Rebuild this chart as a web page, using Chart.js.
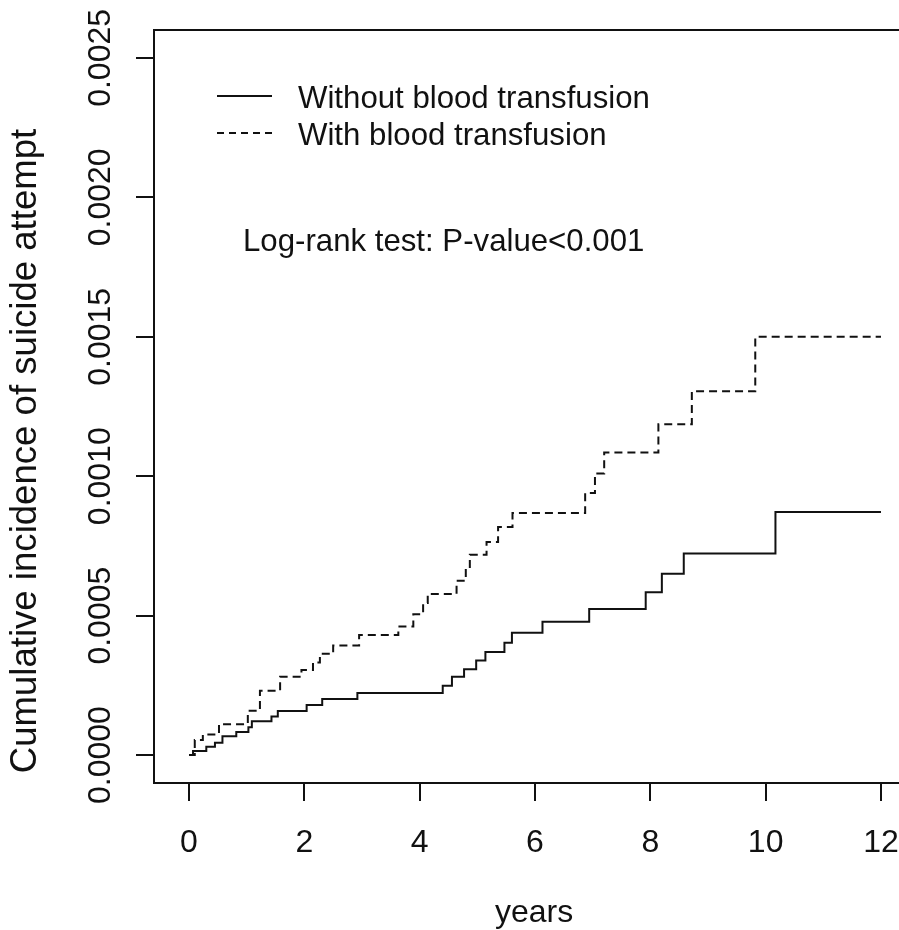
<!DOCTYPE html>
<html><head><meta charset="utf-8">
<script src="https://cdn.jsdelivr.net/npm/chart.js@4.4.1/dist/chart.umd.min.js"></script>
<style>html,body{margin:0;padding:0;background:#fff;overflow:hidden;width:899px;height:930px}canvas{display:block}</style>
</head><body>
<canvas id="c" width="930" height="930"></canvas>
<script>
const xTicks = [0, 2, 4, 6, 8, 10, 12];
const xTickLabels = ['0', '2', '4', '6', '8', '10', '12'];
const yTicks = [0, 0.0005, 0.0010, 0.0015, 0.0020, 0.0025];
const yTickLabels = ['0.0000', '0.0005', '0.0010', '0.0015', '0.0020', '0.0025'];
const seriesNames = ['Without blood transfusion', 'With blood transfusion'];
const xTitle = 'years';
const yTitle = 'Cumulative incidence of suicide attempt';
const annotation = 'Log-rank test: P-value<0.001';

const withoutTimes = [0, 0.07, 0.30, 0.45, 0.58, 0.82, 1.03, 1.09, 1.43, 1.54, 2.04, 2.31, 2.92, 4.40, 4.56, 4.77, 4.98, 5.14, 5.47, 5.60, 6.13, 6.94, 7.92, 8.20, 8.58, 10.17, 12.0];
const withoutValues = [0, 0.000015, 0.000030, 0.000044, 0.000068, 0.000083, 0.000100, 0.000121, 0.000138, 0.000158, 0.000180, 0.000201, 0.000223, 0.000249, 0.000281, 0.000308, 0.000339, 0.000370, 0.000403, 0.000439, 0.000478, 0.000524, 0.000584, 0.000650, 0.000723, 0.000872, 0.000872];
const withTimes = [0, 0.10, 0.24, 0.52, 1.02, 1.23, 1.58, 1.95, 2.15, 2.27, 2.50, 2.95, 3.63, 3.89, 4.06, 4.14, 4.64, 4.80, 4.87, 5.16, 5.36, 5.61, 6.87, 7.04, 7.20, 8.14, 8.72, 9.82, 12.0];
const withValues = [0, 0.000054, 0.000074, 0.000111, 0.000159, 0.000231, 0.000281, 0.000305, 0.000332, 0.000363, 0.000393, 0.000431, 0.000461, 0.000505, 0.000545, 0.000578, 0.000625, 0.000671, 0.000718, 0.000764, 0.000818, 0.000868, 0.000940, 0.001010, 0.001085, 0.001186, 0.001305, 0.001500, 0.001500];

const toPts = (ts, vs) => ts.map((t, i) => ({x: t, y: vs[i]}));
const INK = '#111111';
const FONT = '"Liberation Sans", Arial, Helvetica, sans-serif';

const rStyle = {
  id: 'rStyle',
  afterDraw(chart) {
    const {ctx, chartArea: a, scales: {x, y}} = chart;
    ctx.save();
    ctx.strokeStyle = INK;
    ctx.lineWidth = 2;
    ctx.strokeRect(a.left, a.top, a.right - a.left, a.bottom - a.top);
    ctx.fillStyle = INK;
    // x tick labels
    ctx.font = '32px ' + FONT;
    ctx.textAlign = 'center';
    ctx.textBaseline = 'alphabetic';
    xTicks.forEach((t, i) => ctx.fillText(xTickLabels[i], x.getPixelForValue(t), 852));
    // y tick labels rotated
    yTicks.forEach((v, i) => {
      ctx.save();
      ctx.translate(110, y.getPixelForValue(v));
      ctx.rotate(-Math.PI / 2);
      ctx.fillText(yTickLabels[i], 0, 0);
      ctx.restore();
    });
    // axis titles
    ctx.fillText(xTitle, 534, 922);
    ctx.save();
    ctx.font = '36.6px ' + FONT;
    ctx.translate(36, 451);
    ctx.rotate(-Math.PI / 2);
    ctx.fillText(yTitle, 0, 0);
    ctx.restore();
    // legend
    ctx.textAlign = 'left';
    ctx.font = '31.2px ' + FONT;
    ctx.lineWidth = 2;
    ctx.beginPath(); ctx.setLineDash([]); ctx.moveTo(217, 96); ctx.lineTo(272, 96); ctx.stroke();
    ctx.beginPath(); ctx.setLineDash([7, 5]); ctx.moveTo(217, 133); ctx.lineTo(272, 133); ctx.stroke();
    ctx.setLineDash([]);
    ctx.fillText(seriesNames[0], 298, 108);
    ctx.fillText(seriesNames[1], 298, 145);
    ctx.fillText(annotation, 243, 251);
    ctx.restore();
  }
};

new Chart(document.getElementById('c'), {
  type: 'line',
  data: {
    datasets: [
      {label: seriesNames[0], data: toPts(withoutTimes, withoutValues), stepped: true, borderColor: INK, borderWidth: 2, pointRadius: 0, fill: false},
      {label: seriesNames[1], data: toPts(withTimes, withValues), stepped: true, borderColor: INK, borderWidth: 2, borderDash: [8, 5], pointRadius: 0, fill: false}
    ]
  },
  options: {
    responsive: false,
    animation: false,
    devicePixelRatio: 1,
    layout: {padding: {left: 0, right: 15, top: 30, bottom: 0}},
    plugins: {legend: {display: false}, tooltip: {enabled: false}},
    scales: {
      x: {
        type: 'linear', min: -0.607, max: 12.59,
        afterBuildTicks: s => { s.ticks = xTicks.map(v => ({value: v})); },
        afterFit: s => { s.height = 147; },
        ticks: {display: false},
        grid: {drawOnChartArea: false, drawTicks: true, tickLength: 18, color: INK, lineWidth: 2},
        border: {display: true, color: INK, width: 2}
      },
      y: {
        type: 'linear', min: -0.0001, max: 0.0026,
        afterBuildTicks: s => { s.ticks = yTicks.map(v => ({value: v})); },
        afterFit: s => { s.width = 154; },
        ticks: {display: false},
        grid: {drawOnChartArea: false, drawTicks: true, tickLength: 18, color: INK, lineWidth: 2},
        border: {display: true, color: INK, width: 2}
      }
    }
  },
  plugins: [rStyle]
});
</script>
</body></html>
